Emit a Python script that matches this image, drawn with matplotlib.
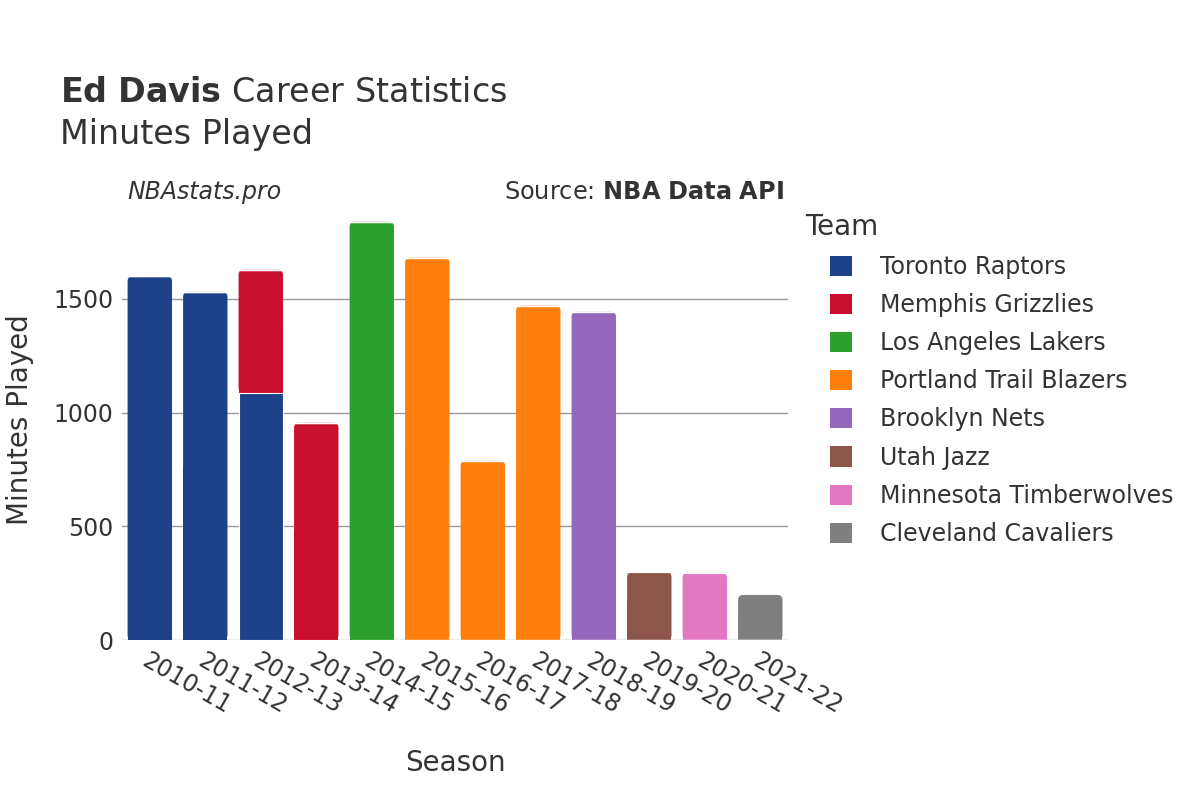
import numpy as np
import matplotlib.pyplot as plt
from matplotlib.patches import Patch, FancyBboxPatch

seasons = ['2010-11', '2011-12', '2012-13', '2013-14', '2014-15', '2015-16',
           '2016-17', '2017-18', '2018-19', '2019-20', '2020-21', '2021-22']
teams = ['Toronto Raptors', 'Memphis Grizzlies', 'Los Angeles Lakers',
         'Portland Trail Blazers', 'Brooklyn Nets', 'Utah Jazz',
         'Minnesota Timberwolves', 'Cleveland Cavaliers']
colors = ['#1d428a', '#c8102e', '#2ca02c', '#ff7f0e', '#9467bd', '#8c564b',
          '#e377c2', '#7f7f7f']

# minutes per season per team (0 = not on team)
toronto   = [1600, 1531, 1087, 0, 0, 0, 0, 0, 0, 0, 0, 0]
memphis   = [0, 0, 541, 955, 0, 0, 0, 0, 0, 0, 0, 0]
lakers    = [0, 0, 0, 0, 1839, 0, 0, 0, 0, 0, 0, 0]
portland  = [0, 0, 0, 0, 0, 1681, 788, 1470, 0, 0, 0, 0]
brooklyn  = [0, 0, 0, 0, 0, 0, 0, 0, 1443, 0, 0, 0]
utah      = [0, 0, 0, 0, 0, 0, 0, 0, 0, 299, 0, 0]
minnesota = [0, 0, 0, 0, 0, 0, 0, 0, 0, 0, 295, 0]
cleveland = [0, 0, 0, 0, 0, 0, 0, 0, 0, 0, 0, 198]
series = [toronto, memphis, lakers, portland, brooklyn, utah, minnesota, cleveland]

txt = '#333333'
f = plt.figure(figsize=(12, 8), dpi=100)
ax = f.add_axes([0.1017, 0.2, 0.555, 0.55])

ymax = 1935
ax.set_xlim(-0.5, len(seasons) - 0.5)
ax.set_ylim(0, ymax)

# y data units per x data unit, in screen terms (for rounded tops)
px_x = 0.555 * 1200 / len(seasons)
px_y = 0.55 * 800 / ymax
aspect = px_x / px_y
r = 5 / px_x

x = np.arange(len(seasons))
bottom = np.zeros(len(seasons))
total = np.sum(np.array(series, dtype=float), axis=0)
w = 0.8
for vals, c in zip(series, colors):
    vals = np.array(vals, dtype=float)
    bars = ax.bar(x, vals, w, bottom=bottom, color=c, edgecolor='white',
                  linewidth=0.8, zorder=3)
    for i, b in enumerate(bars):
        if vals[i] > 0 and np.isclose(bottom[i] + vals[i], total[i]):
            # top segment: rounded top corners, square bottom
            b.set_visible(False)
            ax.add_patch(FancyBboxPatch((x[i] - w / 2, bottom[i]), w, vals[i],
                         boxstyle='round,pad=0,rounding_size=%f' % r,
                         mutation_aspect=aspect, facecolor=c,
                         edgecolor='none', zorder=2.8))
            ax.add_patch(plt.Rectangle((x[i] - w / 2, bottom[i]), w,
                         vals[i] * 0.5, facecolor=c, edgecolor='none',
                         zorder=2.9))
    bottom += vals

ax.set_yticks([0, 500, 1000, 1500])
ax.grid(axis='y', color='#999999', linewidth=1, zorder=0)
ax.axhline(0, color='#eeeeee', linewidth=2.5, zorder=2)
for s in ax.spines.values():
    s.set_visible(False)
ax.tick_params(length=0, labelsize=17, labelcolor=txt, pad=6)
ax.set_xticks(x)
ax.set_xticklabels(seasons, rotation=-30, ha='left', va='top',
                   rotation_mode='anchor')
ax.set_xlabel('Season', fontsize=20, color=txt, labelpad=22)
ax.set_ylabel('Minutes Played', fontsize=20, color=txt, labelpad=14)

f.text(0.05, 0.873, r'$\bf{Ed\ Davis}$ Career Statistics', fontsize=24,
       color=txt, va='baseline')
f.text(0.05, 0.82, 'Minutes Played', fontsize=24, color=txt, va='baseline')
f.text(0.106, 0.76, 'NBAstats.pro', fontsize=17, style='italic', color=txt,
       va='center')
f.text(0.653, 0.76, r'Source: $\bf{NBA\ Data\ API}$', fontsize=17.3, color=txt,
       va='center', ha='right')

f.text(0.671, 0.716, 'Team', fontsize=20, color=txt, va='center')
handles = [Patch(facecolor=c, edgecolor='none') for c in colors]
leg = f.legend(handles, teams, loc='upper left', bbox_to_anchor=(0.6917, 0.6815),
               frameon=False, fontsize=17, borderpad=0, borderaxespad=0,
               handlelength=0.93, handleheight=0.93, handletextpad=1.2,
               labelspacing=0.6)
for t in leg.get_texts():
    t.set_color(txt)

f.savefig('out.png', dpi=100)
